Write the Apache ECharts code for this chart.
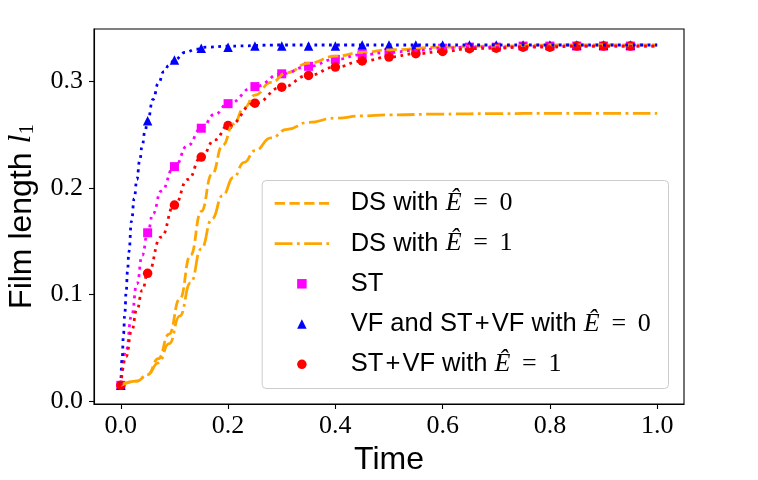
<!DOCTYPE html>
<html>
<head>
<meta charset="utf-8">
<script src="https://cdn.jsdelivr.net/npm/echarts@6/dist/echarts.min.js"></script>
<style>
  html, body { margin: 0; padding: 0; background: #fff; }
  #chart { width: 758px; height: 480px; }
</style>
</head>
<body>
<div id="chart"></div>
<script>
// times where the markers sit
const markerTime = [0, 0.05, 0.1, 0.15, 0.2, 0.25, 0.3, 0.35, 0.4, 0.45, 0.5, 0.55, 0.6, 0.65, 0.7, 0.75, 0.8, 0.85, 0.9, 0.95];
const stMarkers = [0.015, 0.158, 0.220, 0.256, 0.279, 0.295, 0.307, 0.314, 0.3205, 0.325, 0.327, 0.329, 0.331, 0.332, 0.332, 0.333, 0.333, 0.333, 0.333, 0.333];
const vfMarkers = [0.015, 0.263, 0.320, 0.331, 0.332, 0.333, 0.333, 0.333, 0.333, 0.334, 0.334, 0.334, 0.334, 0.334, 0.334, 0.334, 0.334, 0.334, 0.334, 0.334];
const svMarkers = [0.015, 0.120, 0.184, 0.229, 0.2585, 0.2795, 0.2945, 0.3055, 0.3133, 0.319, 0.3227, 0.3258, 0.328, 0.3305, 0.331, 0.332, 0.332, 0.333, 0.333, 0.333];

// dotted curves under the markers
const stCurveTime = [0, 0.01, 0.02, 0.03, 0.04, 0.05, 0.06, 0.075, 0.1, 0.125, 0.15, 0.175, 0.2, 0.25, 0.3, 0.35, 0.4, 0.45, 0.5, 0.55, 0.6, 0.65, 0.7, 0.8, 0.9, 1.0];
const stCurve = [0.015, 0.048, 0.080, 0.110, 0.137, 0.158, 0.176, 0.197, 0.220, 0.240, 0.256, 0.269, 0.279, 0.295, 0.307, 0.314, 0.3205, 0.325, 0.327, 0.329, 0.331, 0.332, 0.332, 0.333, 0.333, 0.333];

const vfCurveTime = [0, 0.0025, 0.005, 0.0075, 0.01, 0.0125, 0.015, 0.02, 0.025, 0.03, 0.035, 0.04, 0.045, 0.05, 0.06, 0.07, 0.08, 0.09, 0.1, 0.12, 0.14, 0.16, 0.2, 0.3, 0.4, 0.5, 0.6, 0.7, 0.8, 0.9, 1.0];
const vfCurve = [0.015, 0.040, 0.063, 0.083, 0.103, 0.122, 0.140, 0.169, 0.190, 0.208, 0.225, 0.240, 0.253, 0.263, 0.283, 0.298, 0.309, 0.315, 0.320, 0.327, 0.330, 0.332, 0.333, 0.334, 0.334, 0.334, 0.334, 0.334, 0.334, 0.334, 0.334];

const svCurveTime = [0, 0.01, 0.02, 0.03, 0.04, 0.05, 0.075, 0.1, 0.125, 0.15, 0.175, 0.2, 0.25, 0.3, 0.35, 0.4, 0.45, 0.5, 0.55, 0.6, 0.65, 0.7, 0.75, 0.8, 0.85, 0.9, 1.0];
const svCurve = [0.015, 0.042, 0.066, 0.086, 0.104, 0.120, 0.154, 0.184, 0.208, 0.229, 0.245, 0.2585, 0.2795, 0.2945, 0.3055, 0.3133, 0.319, 0.3227, 0.3258, 0.328, 0.3305, 0.331, 0.332, 0.332, 0.333, 0.333, 0.333];

// DS curves
const dsTime = [0, 0.03, 0.05, 0.07, 0.09, 0.11, 0.13, 0.15, 0.17, 0.19, 0.21, 0.23, 0.25, 0.28, 0.31, 0.35, 0.4, 0.45, 0.5, 0.6, 0.7, 0.8, 1.0];
const ds0 = [0.015, 0.019, 0.025, 0.040, 0.063, 0.096, 0.137, 0.178, 0.213, 0.240, 0.260, 0.275, 0.287, 0.299, 0.308, 0.317, 0.3235, 0.327, 0.3295, 0.332, 0.333, 0.334, 0.334];
const ds1 = [0.015, 0.019, 0.025, 0.036, 0.054, 0.080, 0.111, 0.143, 0.171, 0.193, 0.210, 0.224, 0.235, 0.247, 0.255, 0.2615, 0.2655, 0.2675, 0.2685, 0.2693, 0.2697, 0.270, 0.270];

const xTicks = [0, 0.2, 0.4, 0.6, 0.8, 1.0];
const yTicks = [0, 0.1, 0.2, 0.3];

const NAME_DS0 = 'DS with Ê = 0';
const NAME_DS1 = 'DS with Ê = 1';
const NAME_ST = 'ST';
const NAME_VF = 'VF and ST+VF with Ê = 0';
const NAME_SV = 'ST+VF with Ê = 1';

const legendText = {};
legendText[NAME_DS0] = '{sp| }{t|DS with }{m|Ê}{r|\u2009 = \u20090}';
legendText[NAME_DS1] = '{sp| }{t|DS with }{m|Ê}{r|\u2009 = \u20091}';
legendText[NAME_ST] = '{sp| }{t|ST}';
legendText[NAME_VF] = '{sp| }{t|VF and ST\u200a+\u200aVF with }{m|Ê}{r|\u2009 = \u20090}';
legendText[NAME_SV] = '{sp| }{t|ST\u200a+\u200aVF with }{m|Ê}{r|\u2009 = \u20091}';

function pairs(xs, ys) {
  return xs.map(function (x, i) { return [x, ys[i]]; });
}

const LW = 2.78;
const DOTTED = [2.8, 4.6];

function curve(name, xs, ys, color, type) {
  return {
    name: name, type: 'line', data: pairs(xs, ys),
    symbol: 'none', smooth: 0.5, smoothMonotone: 'x',
    lineStyle: { color: color, width: LW, type: type },
    itemStyle: { color: color },
    silent: true
  };
}
function markers(name, ys, color, symbol, size) {
  return {
    name: name, type: 'scatter', data: pairs(markerTime, ys),
    symbol: symbol, symbolSize: size,
    itemStyle: { color: color, borderWidth: 0, opacity: 1 },
    silent: true
  };
}

const chart = echarts.init(document.getElementById('chart'));
const option = {
  animation: false,
  backgroundColor: '#fff',
  grid: {
    left: 94, right: 74, top: 29, bottom: 76,
    show: true, borderColor: '#000', borderWidth: 1.1,
    outerBoundsMode: 'none'
  },
  xAxis: {
    type: 'value', min: -0.05, max: 1.05,
    axisLine: { show: true, onZero: false, lineStyle: { color: '#000', width: 1.1 } },
    axisTick: { show: true, inside: false, length: 5, customValues: xTicks, lineStyle: { color: '#000', width: 1.1 } },
    axisLabel: {
      customValues: xTicks, formatter: function (v) { return v.toFixed(1); },
      fontFamily: 'Liberation Serif', fontSize: 26, lineHeight: 26, color: '#000', margin: 9
    },
    splitLine: { show: false },
    name: 'Time', nameLocation: 'middle', nameGap: 35,
    nameTextStyle: { fontFamily: 'Liberation Sans', fontSize: 32, lineHeight: 32, color: '#000' }
  },
  yAxis: {
    type: 'value', min: -0.0025, max: 0.349,
    axisLine: { show: true, onZero: false, lineStyle: { color: '#000', width: 1.1 } },
    axisTick: { show: true, inside: false, length: 5, customValues: yTicks, lineStyle: { color: '#000', width: 1.1 } },
    axisLabel: {
      customValues: yTicks, formatter: function (v) { return v.toFixed(1); },
      fontFamily: 'Liberation Serif', fontSize: 26, lineHeight: 26, color: '#000', margin: 11
    },
    splitLine: { show: false },
    name: '{a|Film length }{b|l}{c|1}', nameLocation: 'middle', nameGap: 56,
    nameTextStyle: {
      color: '#000',
      rich: {
        a: { fontFamily: 'Liberation Sans', fontSize: 32, lineHeight: 32, color: '#000' },
        b: { fontFamily: 'Liberation Serif', fontStyle: 'italic', fontSize: 32, lineHeight: 32, color: '#000' },
        c: { fontFamily: 'Liberation Serif', fontSize: 21, lineHeight: 21, verticalAlign: 'bottom', color: '#000' }
      }
    }
  },
  legend: {
    orient: 'vertical', left: 273.3, top: 188.3, padding: 0,
    itemGap: 10.25, itemWidth: 54.4, itemHeight: 9.5,
    selectedMode: false,
    symbolKeepAspect: true,
    lineStyle: { width: LW },
    data: [
      { name: NAME_DS0, itemStyle: { opacity: 0 } },
      { name: NAME_DS1, itemStyle: { opacity: 0 } },
      { name: NAME_ST, icon: 'path://M0,0L10,0L10,10L0,10Z' },
      { name: NAME_VF, icon: 'path://M5,0L10,10L0,10Z' },
      { name: NAME_SV, icon: 'circle' }
    ],
    formatter: function (name) { return legendText[name]; },
    textStyle: {
      color: '#000', fontFamily: 'Liberation Sans', fontSize: 25.5, lineHeight: 30,
      rich: {
        sp: { width: 16.6, fontSize: 25.5, lineHeight: 30 },
        t: { fontFamily: 'Liberation Sans', fontSize: 25.5, lineHeight: 30, color: '#000' },
        m: { fontFamily: 'Liberation Serif', fontStyle: 'italic', fontSize: 26, lineHeight: 30, color: '#000' },
        r: { fontFamily: 'Liberation Serif', fontSize: 26, lineHeight: 30, color: '#000' }
      }
    }
  },
  graphic: [{
    type: 'rect', left: 261.7, top: 180, z: 3,
    shape: { width: 406.3, height: 208, r: 4 },
    style: { fill: 'rgba(255,255,255,0.8)', stroke: '#cccccc', lineWidth: 1 }
  }],
  series: [
    curve(NAME_DS0, dsTime, ds0, '#FFA500', [10.3, 4.45]),
    curve(NAME_DS1, dsTime, ds1, '#FFA500', [17.8, 4.45, 2.78, 4.45]),
    curve('ST curve', stCurveTime, stCurve, '#FF00FF', DOTTED),
    markers(NAME_ST, stMarkers, '#FF00FF', 'rect', 9),
    curve('VF curve', vfCurveTime, vfCurve, '#0000FF', DOTTED),
    markers(NAME_VF, vfMarkers, '#0000FF', 'triangle', 9.5),
    curve('ST+VF curve', svCurveTime, svCurve, '#FF0000', DOTTED),
    markers(NAME_SV, svMarkers, '#FF0000', 'circle', 9.5)
  ]
};
chart.setOption(option);
</script>
</body>
</html>
